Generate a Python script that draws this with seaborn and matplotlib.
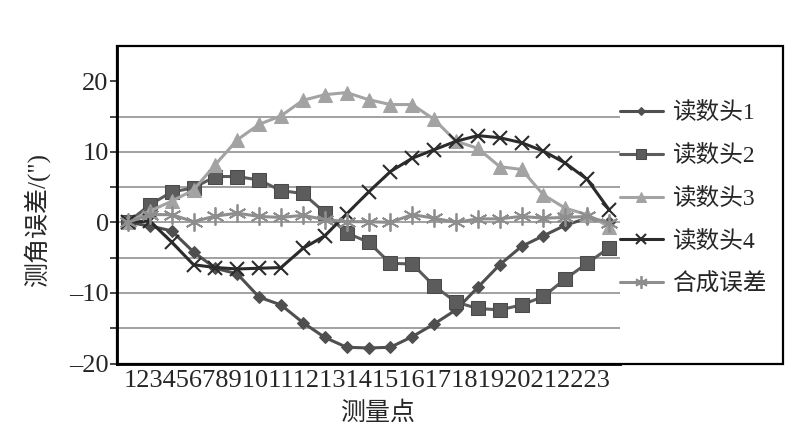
import matplotlib
matplotlib.use('Agg')
import matplotlib.pyplot as plt
import seaborn as sns
import pandas as pd
from matplotlib.patches import Rectangle

# data
points = list(range(1, 24))
x_labels = [str(p) for p in points]
head1 = [0, -0.5, -1.2, -4.2, -6.5, -7.3, -10.6, -11.7, -14.2, -16.3, -17.7, -17.8,
         -17.7, -16.2, -14.4, -12.4, -9.2, -6.0, -3.4, -1.9, -0.4, 0.6, 0.0]
head2 = [0, 2.5, 4.3, 4.9, 6.5, 6.5, 6.0, 4.5, 4.1, 1.4, -1.5, -2.8,
         -5.8, -5.9, -9.0, -11.3, -12.2, -12.4, -11.7, -10.5, -8.0, -5.8, -3.6]
head3 = [0, 1.6, 3.0, 4.6, 8.2, 11.7, 13.9, 15.1, 17.3, 18.1, 18.4, 17.4,
         16.7, 16.7, 14.6, 11.5, 10.5, 7.9, 7.5, 3.9, 2.0, 1.1, -0.6]
head4 = [0, 0.2, -2.8, -6.0, -6.4, -6.6, -6.5, -6.4, -3.7, -1.9, 1.2, 4.3,
         7.2, 9.1, 10.3, 11.5, 12.3, 12.0, 11.3, 10.1, 8.4, 6.1, 1.8]
combined = [0, 1.1, 1.1, 0.1, 0.9, 1.3, 0.85, 0.7, 1.0, 0.4, 0.1, 0.1,
            0.0, 1.1, 0.6, 0.0, 0.5, 0.5, 0.85, 0.6, 0.7, 0.85, -0.1]
series_names = ['读数头1', '读数头2', '读数头3', '读数头4', '合成误差']
y_ticks = list(range(-20, 25, 5))


def main():
    sns.set_style('white')
    plt.rcParams['font.family'] = ['Liberation Serif', 'Noto Sans CJK SC']

    fig = plt.figure(figsize=(8, 4.26), dpi=100)
    ax = fig.add_axes([117 / 800, 1 - 363.5 / 426, 503 / 800, 317.5 / 426])

    pos = list(range(len(points)))
    styles = [
        dict(color='#4f4f4f', marker='D', markersize=6, markeredgecolor='#4f4f4f'),
        dict(color='#5c5c5c', marker='s', markersize=10, markeredgecolor='#4a4a4a'),
        dict(color='#a3a3a3', marker='^', markersize=10, markeredgecolor='#a3a3a3'),
        dict(color='#2b2b2b', marker='x', markersize=10, markeredgewidth=1.5,
             markeredgecolor='#2b2b2b'),
        dict(color='#8e8e8e', marker=(6, 2, 0), markersize=13, markeredgewidth=1.3,
             markeredgecolor='#8e8e8e'),
    ]
    for name, vals, st in zip(series_names, [head1, head2, head3, head4, combined], styles):
        df = pd.DataFrame({'pos': pos, 'val': vals})
        sns.lineplot(data=df, x='pos', y='val', ax=ax, label=name, linewidth=2.2, **st)

    ax.set_xlim(-0.5, len(points) - 0.5)
    ax.set_ylim(-20, 25)
    ax.set_yticks(y_ticks)
    ax.set_yticklabels([(str(t).replace('-', '\u2013') if t % 10 == 0 else '') for t in y_ticks],
                       fontsize=19)
    for t in y_ticks[1:-1]:
        ax.axhline(t, color='#9a9a9a', linewidth=1.3, zorder=0)
    ax.set_xticks(pos)
    ax.set_xticklabels([])
    ax.tick_params(axis='x', length=0)
    ax.tick_params(axis='y', direction='out', length=5, width=1.2, pad=1, left=True)
    ax.set_xlabel('')
    ax.set_ylabel('测角误差/(")', fontsize=18)
    ax.yaxis.set_label_coords(-0.133, 0.452)
    ax.text(0.498, -0.022, ''.join(x_labels), transform=ax.transAxes,
            ha='center', va='top', fontsize=19)
    ax.text(0.519, -0.118, '测量点', transform=ax.transAxes,
            ha='center', va='top', fontsize=18)

    for side in ['top', 'right']:
        ax.spines[side].set_visible(False)
    for side in ['left', 'bottom']:
        ax.spines[side].set_linewidth(2)
        ax.spines[side].set_color('black')

    fig.patches.append(Rectangle((117 / 800, 1 - 363.5 / 426), 666 / 800, 317.5 / 426,
                                 transform=fig.transFigure, fill=False,
                                 edgecolor='black', linewidth=1.6))

    handles, labels = ax.get_legend_handles_labels()
    ax.get_legend().remove()
    fig.legend(handles, labels, loc='upper left', bbox_to_anchor=(620 / 800, 1 - 102 / 426),
               frameon=False, fontsize=17, handlelength=1.8, handletextpad=0.4,
               labelspacing=0.88, borderpad=0, borderaxespad=0, markerscale=0.7)

    fig.savefig('out.png', dpi=100)


if __name__ == '__main__':
    main()
